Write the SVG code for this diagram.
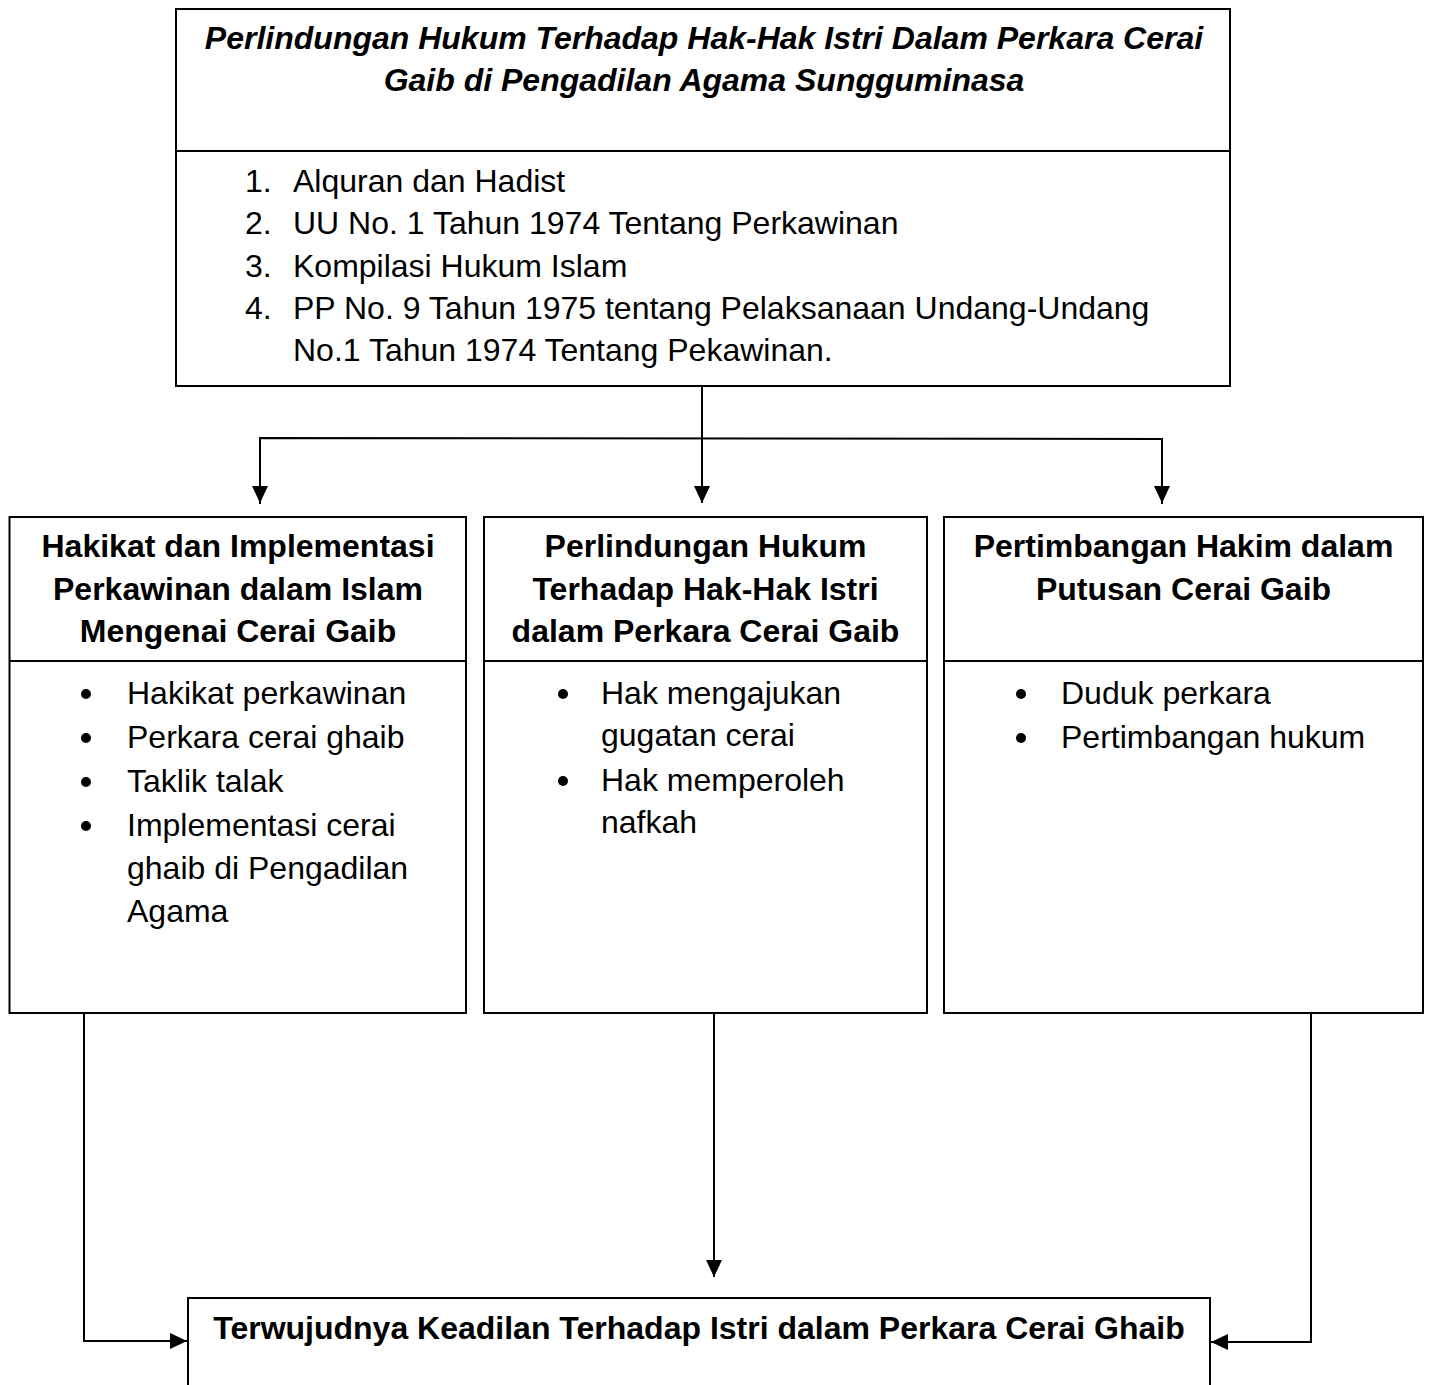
<svg xmlns="http://www.w3.org/2000/svg" width="1431" height="1385" viewBox="0 0 1431 1385">
<style>
.box{fill:#fff;stroke:#000;stroke-width:2}
.div{stroke:#000;stroke-width:2}
.con{fill:none;stroke:#000;stroke-width:2}
text{font-family:"Liberation Sans",Arial,sans-serif;font-size:32px;fill:#000}
.ti{font-weight:bold;font-style:italic;text-anchor:middle}
.hd{font-weight:bold;text-anchor:middle}
</style>
<defs>
<marker id="arr" markerUnits="userSpaceOnUse" markerWidth="18" markerHeight="16" refX="17" refY="8" orient="auto" overflow="visible">
<path d="M0,0 L17,8 L0,16 z" fill="#000"/>
</marker>
</defs>
<rect width="1431" height="1385" fill="#fff"/>

<g id="connectors">
<path class="con" d="M702,386 V503" marker-end="url(#arr)"/>
<path class="con" d="M260,504 V438 L1162,439 V504" />
<path class="con" d="M260,440 V503" marker-end="url(#arr)"/>
<path class="con" d="M1162,440 V503" marker-end="url(#arr)"/>
<path class="con" d="M84,1013 V1341 H187" marker-end="url(#arr)"/>
<path class="con" d="M714,1013 V1277" marker-end="url(#arr)"/>
<path class="con" d="M1311,1013 V1342 H1211" marker-end="url(#arr)"/>
</g>

<g id="top">
<rect class="box" x="176" y="9" width="1054" height="377"/>
<line class="div" x1="176" y1="151" x2="1230" y2="151"/>
<text class="ti" x="704" y="49">Perlindungan Hukum Terhadap Hak-Hak Istri Dalam Perkara Cerai</text>
<text class="ti" x="704" y="91">Gaib di Pengadilan Agama Sungguminasa</text>
<text x="245" y="192">1.</text><text x="293" y="192">Alquran dan Hadist</text>
<text x="245" y="234">2.</text><text x="293" y="234">UU No. 1 Tahun 1974 Tentang Perkawinan</text>
<text x="245" y="277">3.</text><text x="293" y="277">Kompilasi Hukum Islam</text>
<text x="245" y="319">4.</text><text x="293" y="319">PP No. 9 Tahun 1975 tentang Pelaksanaan Undang-Undang</text>
<text x="293" y="361">No.1 Tahun 1974 Tentang Pekawinan.</text>
</g>

<g id="box1">
<rect class="box" x="9.5" y="517" width="456.5" height="496"/>
<line class="div" x1="9.5" y1="661" x2="466" y2="661"/>
<text class="hd" x="238" y="557">Hakikat dan Implementasi</text>
<text class="hd" x="238" y="600">Perkawinan dalam Islam</text>
<text class="hd" x="238" y="642">Mengenai Cerai Gaib</text>
<circle cx="86" cy="694" r="5"/><text x="127" y="704">Hakikat perkawinan</text>
<circle cx="86" cy="738" r="5"/><text x="127" y="748">Perkara cerai ghaib</text>
<circle cx="86" cy="782" r="5"/><text x="127" y="792">Taklik talak</text>
<circle cx="86" cy="826" r="5"/><text x="127" y="836">Implementasi cerai</text>
<text x="127" y="879">ghaib di Pengadilan</text>
<text x="127" y="922">Agama</text>
</g>

<g id="box2">
<rect class="box" x="484" y="517" width="443" height="496"/>
<line class="div" x1="484" y1="661" x2="927" y2="661"/>
<text class="hd" x="705.5" y="557">Perlindungan Hukum</text>
<text class="hd" x="705.5" y="600">Terhadap Hak-Hak Istri</text>
<text class="hd" x="705.5" y="642">dalam Perkara Cerai Gaib</text>
<circle cx="563" cy="694" r="5"/><text x="601" y="704">Hak mengajukan</text>
<text x="601" y="746">gugatan cerai</text>
<circle cx="563" cy="781" r="5"/><text x="601" y="791">Hak memperoleh</text>
<text x="601" y="833">nafkah</text>
</g>

<g id="box3">
<rect class="box" x="944" y="517" width="479" height="496"/>
<line class="div" x1="944" y1="661" x2="1423" y2="661"/>
<text class="hd" x="1183.5" y="557">Pertimbangan Hakim dalam</text>
<text class="hd" x="1183.5" y="600">Putusan Cerai Gaib</text>
<circle cx="1021" cy="694" r="5"/><text x="1061" y="704">Duduk perkara</text>
<circle cx="1021" cy="738" r="5"/><text x="1061" y="748">Pertimbangan hukum</text>
</g>

<g id="bottom">
<rect class="box" x="188" y="1298" width="1022" height="110"/>
<text class="hd" x="699" y="1339">Terwujudnya Keadilan Terhadap Istri dalam Perkara Cerai Ghaib</text>
</g>
</svg>
